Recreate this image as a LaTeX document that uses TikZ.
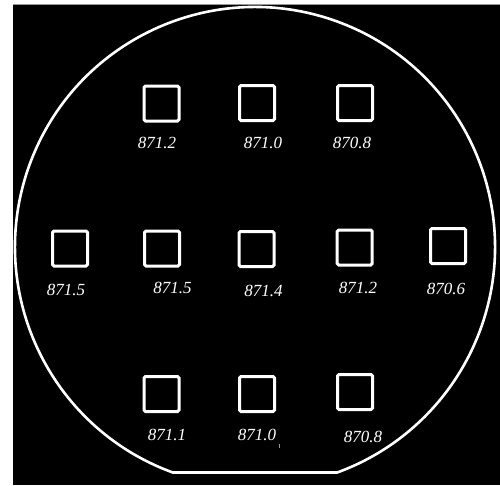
\documentclass[tikz,border=0pt]{standalone}
\usepackage{fontspec}
\setmainfont{Liberation Serif}
\definecolor{edgeG}{RGB}{150,150,150}
\tikzset{
  site/.style={draw=white,line width=3pt,rounded corners=1.5pt,minimum size=35pt,inner sep=0pt},
  val/.style={text=white,inner sep=0pt,font=\fontsize{17}{17}\selectfont\itshape}
}

\begin{document}
\begin{tikzpicture}[x=1pt,y=-1pt]
\useasboundingbox (0,0) rectangle (500,485);
% page and dark field
\fill[white] (0,0) rectangle (500,485);
\fill[black] (13,4) rectangle (500,485);
\draw[edgeG,line width=0.8pt] (13,4.2) -- (500,4.2);
% wafer outline with flat
\draw[white,line width=2.6pt,line join=round] (255,247) ++(110:240) arc[start angle=110,end angle=430,radius=240] -- cycle;
% measurement sites: name / x / y / value / label x / label y
\foreach \n/\x/\y/\v/\lx/\ly in {
  t1/161.5/103.5/871.2/157/143, t2/257/103/871.0/263/143, t3/355/103/870.8/352/143,
  m1/70/248.5/871.5/66/290, m2/162/248.5/871.5/172.5/288, m3/256.5/249/871.4/263.5/291,
  m4/354.7/247.5/871.2/358/288, m5/448/246/870.6/446/289,
  b1/161.5/394/871.1/167/435, b2/257/394/871.0/257/435, b3/355/392/870.8/363/437}
{
  \node[site] (s\n) at (\x,\y) {};
  \node[val] (l\n) at (\lx,\ly) {\v};
}
\draw[edgeG,line width=0.6pt] ([xshift=2.5pt,yshift=-3pt]lb2.south east) -- ++(0,4);
\end{tikzpicture}
\end{document}
